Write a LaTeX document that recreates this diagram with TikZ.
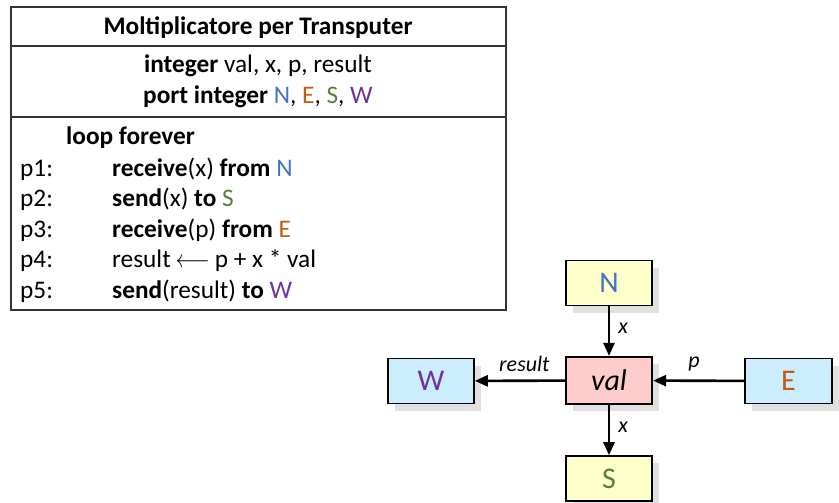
\documentclass[tikz,border=0pt]{standalone}
\usepackage{fontspec}
\setmainfont{Carlito}
\usetikzlibrary{arrows.meta,shadows}
\definecolor{cN}{HTML}{4472C4}
\definecolor{cE}{HTML}{C55A11}
\definecolor{cS}{HTML}{548235}
\definecolor{cW}{HTML}{7030A0}
\definecolor{fyel}{HTML}{FFFFCC}
\definecolor{fblu}{HTML}{CCECFF}
\definecolor{fpink}{HTML}{FFCCCC}
\definecolor{lin}{HTML}{333333}
\tikzset{
  txt/.style={anchor=base west,inner sep=0pt,font=\fontsize{25.3}{28}\selectfont},
  ctxt/.style={anchor=base,inner sep=0pt,font=\fontsize{25.3}{28}\selectfont},
  port/.style={draw=black,line width=1.6pt,minimum width=86pt,minimum height=45pt,inner sep=0pt,
    font=\fontsize{30}{34}\selectfont,drop shadow={shadow xshift=7pt,shadow yshift=-7pt,fill=black!12,opacity=1}},
  arr/.style={line width=2.6pt,-{Triangle[length=13pt,width=11pt]}},
  lbl/.style={font=\fontsize{22}{26}\selectfont\itshape,inner sep=0pt}
}
\begin{document}
\begin{tikzpicture}[x=1pt,y=-1pt]
\useasboundingbox (0,0) rectangle (839,503);
% table
\draw[lin,line width=1.2pt] (11,7) rectangle (506,310);
\draw[lin,line width=1.2pt] (11,46) -- (506,46);
\draw[lin,line width=1.2pt] (11,117) -- (506,117);
\node[ctxt] (title) at (258,35) {\textbf{Moltiplicatore per Transputer}};
\node[ctxt] (decl1) at (258,73) {\textbf{integer} val, x, p, result};
\node[ctxt] (decl2) at (258,104) {\textbf{port integer} \textcolor{cN}{N}, \textcolor{cE}{E}, \textcolor{cS}{S}, \textcolor{cW}{W}};
\node[txt] (loop) at (66,145) {\textbf{loop forever}};
\node[txt] (l1) at (20,176) {p1:};
\node[txt] (l2) at (20,206) {p2:};
\node[txt] (l3) at (20,237) {p3:};
\node[txt] (l4) at (20,267) {p4:};
\node[txt] (l5) at (20,298) {p5:};
\node[txt] (s1) at (112,176) {\textbf{receive}(x) \textbf{from} \textcolor{cN}{N}};
\node[txt] (s2) at (112,206) {\textbf{send}(x) \textbf{to} \textcolor{cS}{S}};
\node[txt] (s3) at (112,237) {\textbf{receive}(p) \textbf{from} \textcolor{cE}{E}};
\node[txt] (s4) at (112,267) {result\hspace{5pt}\scalebox{0.85}[1]{$\longleftarrow$}\hspace{5pt}p + x * val};
\node[txt] (s5) at (112,298) {\textbf{send}(result) \textbf{to} \textcolor{cW}{W}};
% diagram
\node[port,fill=fyel,text=cN] (N) at (609,283) {N};
\node[port,fill=fpink,minimum height=47pt,line width=2.2pt] (V) at (609,380.5) {\itshape val};
\node[port,fill=fblu,text=cW] (W) at (431,381) {W};
\node[port,fill=fblu,text=cE,minimum width=87pt] (E) at (788.5,381) {E};
\node[port,fill=fyel,text=cS] (S) at (609,478.5) {S};
\draw[arr] (N) -- node[lbl,right=8pt,pos=0.45] {x} (V);
\draw[arr] (V) -- node[lbl,right=8pt,pos=0.45] {x} (S);
\draw[arr] (E) -- node[lbl,above=8pt,pos=0.55] {p} (V);
\draw[arr] (V) -- node[lbl,above=8pt,pos=0.45] {result} (W);
\end{tikzpicture}
\end{document}
